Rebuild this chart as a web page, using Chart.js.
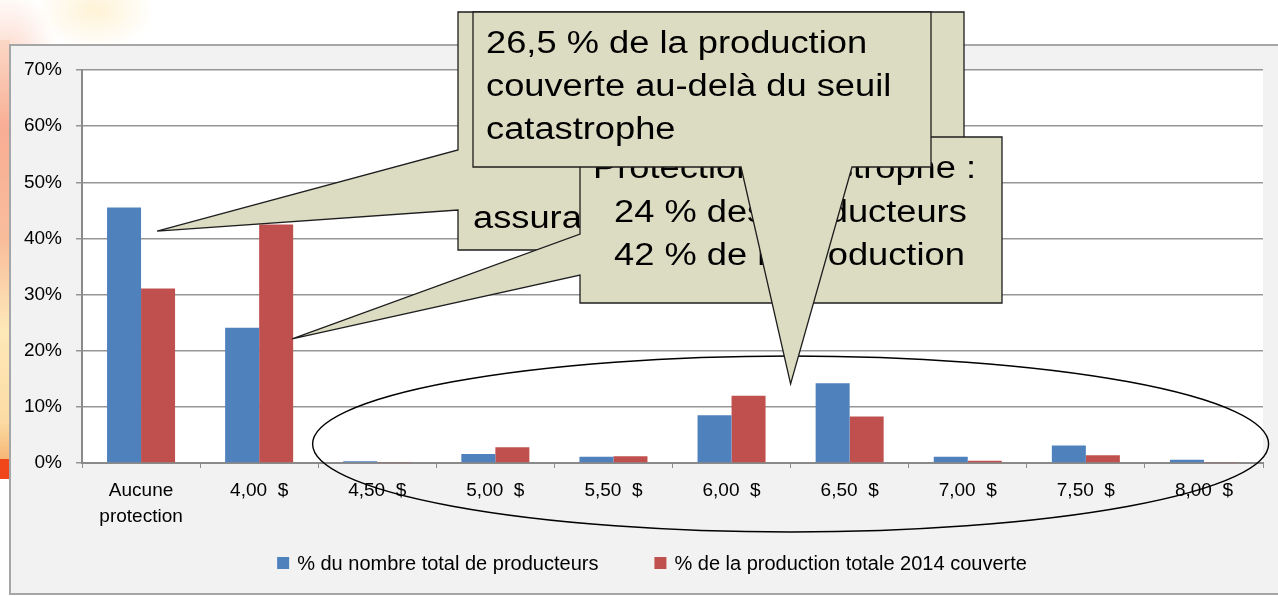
<!DOCTYPE html>
<html>
<head>
<meta charset="utf-8">
<title>Protection</title>
<script src="https://cdn.jsdelivr.net/npm/chart.js@4.4.1/dist/chart.umd.min.js"></script>
<style>
    html, body { margin: 0; padding: 0; width: 1278px; height: 596px; overflow: hidden; background: #fff; }
    #glow {
        position: absolute; left: 0; top: 0; width: 180px; height: 120px;
        background:
            radial-gradient(ellipse 60px 40px at 95px 10px, rgba(255, 232, 180, 0.55), rgba(255, 232, 180, 0)),
            radial-gradient(ellipse 50px 70px at 8px 60px, rgba(250, 190, 165, 0.6), rgba(250, 190, 165, 0));
    }
    #strip {
        position: absolute; left: 0; top: 40px; width: 10px; height: 420px;
        background: linear-gradient(to bottom, #fbd8c6 0px, #f8ad93 90px, #f9bd9c 200px, #fde8b8 290px, #fcdca4 380px, #f6b676 420px);
    }
    #mark { position: absolute; left: 0; top: 459px; width: 10px; height: 20px; background: #f0461a; }
    #frame {
        position: absolute; left: 9px; top: 44px; width: 1280px; height: 547px;
        background: #f2f2f2; border: 2px solid #a6a6a6; border-right: none;
    }
    #chart { position: absolute; left: 0; top: 0; }
</style>
</head>
<body>
<div id="glow"></div>
<div id="strip"></div>
<div id="mark"></div>
<div id="frame"></div>
<canvas id="chart" width="1278" height="596"></canvas>
<script>
// Chart data (percent)
const categories = [['Aucune', 'protection'], '4,00  $', '4,50  $', '5,00  $', '5,50  $', '6,00  $', '6,50  $', '7,00  $', '7,50  $', '8,00  $'];
const seriesNames = ['% du nombre total de producteurs', '% de la production totale 2014 couverte'];
const producteurs = [45.5, 24.1, 0.3, 1.6, 1.1, 8.5, 14.2, 1.1, 3.1, 0.6];
const production = [31.1, 42.5, 0.2, 2.8, 1.2, 12.0, 8.3, 0.4, 1.4, 0.2];
const yMax = 70;
const yStep = 10;

// Callout texts
const calloutBaseText = ['assurance'];
const calloutCatText = ['Protection catastrophe :', '24 % des producteurs', '42 % de la production'];
const calloutSeuilText = ['26,5 % de la production', 'couverte au-delà du seuil', 'catastrophe'];

const axisFont = 'Liberation Sans, Arial, sans-serif';
const calloutFill = '#dcdcc3';
const stretch = 1.17;

function writeLines(ctx, lines, x, y, lineGap) {
    ctx.fillStyle = '#000';
    ctx.font = '31px ' + axisFont;
    ctx.textBaseline = 'alphabetic';
    ctx.textAlign = 'left';
    lines.forEach((line, i) => {
        ctx.save();
        ctx.translate(x[i] !== undefined ? x[i] : x[0], y + i * lineGap);
        ctx.scale(stretch, 1);
        ctx.fillText(line, 0, 0);
        ctx.restore();
    });
}

function shape(ctx, pts) {
    ctx.beginPath();
    ctx.moveTo(pts[0][0], pts[0][1]);
    for (let i = 1; i < pts.length; i++) {
        ctx.lineTo(pts[i][0], pts[i][1]);
    }
    ctx.closePath();
    ctx.fillStyle = calloutFill;
    ctx.fill();
    ctx.lineWidth = 1.3;
    ctx.strokeStyle = '#1e1e1e';
    ctx.stroke();
}

const plotBackground = {
    id: 'plotBackground',
    beforeDraw(chart) {
        const {ctx, chartArea} = chart;
        ctx.save();
        ctx.fillStyle = '#fff';
        ctx.fillRect(chartArea.left, chartArea.top, chartArea.right - chartArea.left, chartArea.bottom - chartArea.top);
        ctx.restore();
    }
};

// Legend drawn by hand so the two entries keep the wide gap of the original
const bottomLegend = {
    id: 'bottomLegend',
    afterDraw(chart) {
        const {ctx} = chart;
        const sets = chart.data.datasets;
        const gap = 56;
        const box = 12;
        const textGap = 8;
        ctx.save();
        ctx.font = '20px ' + axisFont;
        ctx.textBaseline = 'middle';
        ctx.textAlign = 'left';
        const widths = sets.map(ds => box + textGap + ctx.measureText(ds.label).width);
        const total = widths.reduce((a, b) => a + b, 0) + gap * (sets.length - 1);
        let x = 652 - total / 2;
        const y = 563;
        sets.forEach((ds, i) => {
            ctx.fillStyle = ds.backgroundColor;
            ctx.fillRect(x, y - box / 2, box, box);
            ctx.fillStyle = '#000';
            ctx.fillText(ds.label, x + box + textGap, y + 1);
            x += widths[i] + gap;
        });
        ctx.restore();
    }
};

const annotations = {
    id: 'annotations',
    afterDraw(chart) {
        const {ctx} = chart;
        const x = chart.scales.x;
        const y = chart.scales.y;

        // points the callouts aim at
        const tipA = [x.getPixelForValue(0) + 16, y.getPixelForValue(41.3)];
        const tipB = [x.getPixelForValue(1) + 33, y.getPixelForValue(22.1)];
        const tipC = [(x.getPixelForValue(5) + x.getPixelForValue(6)) / 2, y.getPixelForValue(14.1)];

        ctx.save();

        // ellipse round the catastrophe levels
        ctx.beginPath();
        ctx.ellipse((x.getPixelForValue(5) + x.getPixelForValue(6)) / 2, 444, 478, 88, 0, 0, Math.PI * 2);
        ctx.lineWidth = 1.4;
        ctx.strokeStyle = '#000';
        ctx.stroke();

        shape(ctx, [[458, 12], [964, 12], [964, 250], [458, 250], [458, 210], tipA, [458, 150]]);
        writeLines(ctx, calloutBaseText, [473], 228, 43);

        shape(ctx, [[580, 137], [1002, 137], [1002, 303], [580, 303], [580, 275], tipB, [580, 234]]);
        writeLines(ctx, calloutCatText, [593, 614, 614], 178, 43.5);

        shape(ctx, [[473, 12], [931, 12], [931, 167], [852, 167], tipC, [741, 167], [473, 167]]);
        writeLines(ctx, calloutSeuilText, [486], 53, 42.8);

        ctx.restore();
    }
};

const ctx = document.getElementById('chart').getContext('2d');
const chart = new Chart(ctx, {
    type: 'bar',
    data: {
        labels: categories,
        datasets: [{
            label: seriesNames[0],
            data: producteurs,
            backgroundColor: '#4f81bd',
            borderWidth: 0
        }, {
            label: seriesNames[1],
            data: production,
            backgroundColor: '#c0504d',
            borderWidth: 0
        }]
    },
    options: {
        responsive: false,
        devicePixelRatio: 1,
        animation: false,
        categoryPercentage: 0.576,
        barPercentage: 1,
        layout: {
            padding: {left: 0, top: 70, right: 15, bottom: 0}
        },
        plugins: {
            tooltip: {enabled: false},
            legend: {display: false}
        },
        scales: {
            x: {
                afterFit: (scale) => { scale.height = 133; },
                grid: {
                    drawOnChartArea: false,
                    drawTicks: true,
                    tickLength: 5,
                    color: '#8a8a8a'
                },
                border: {color: '#8a8a8a', width: 2},
                ticks: {
                    color: '#000',
                    padding: 9,
                    maxRotation: 0,
                    autoSkip: false,
                    font: {family: axisFont, size: 19, lineHeight: 1.4}
                }
            },
            y: {
                min: 0,
                max: yMax,
                afterFit: (scale) => { scale.width = 82; },
                grid: {
                    color: '#969696',
                    lineWidth: 1.5,
                    tickLength: 6
                },
                border: {color: '#8a8a8a', width: 2},
                ticks: {
                    stepSize: yStep,
                    color: '#000',
                    padding: 14,
                    font: {family: axisFont, size: 19},
                    callback: (value) => value + '%'
                }
            }
        }
    },
    plugins: [plotBackground, annotations, bottomLegend]
});
</script>
</body>
</html>
